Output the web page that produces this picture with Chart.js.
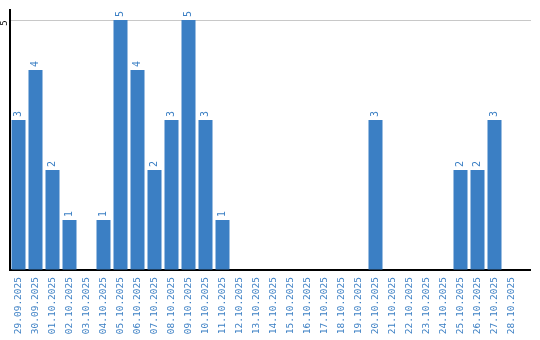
<!DOCTYPE html>
<html lang="en">
<head>
<meta charset="UTF-8" />
<title>Daily count</title>
<script src="https://cdn.jsdelivr.net/npm/chart.js"></script>
<style>
  html, body { margin: 0; padding: 0; background: #fff; }
  #wrap { width: 540px; height: 340px; }
</style>
</head>
<body>
<div id="wrap"><canvas id="chart"></canvas></div>
<script>
  const dates = ['29.09.2025', '30.09.2025', '01.10.2025', '02.10.2025', '03.10.2025', '04.10.2025',
    '05.10.2025', '06.10.2025', '07.10.2025', '08.10.2025', '09.10.2025', '10.10.2025', '11.10.2025',
    '12.10.2025', '13.10.2025', '14.10.2025', '15.10.2025', '16.10.2025', '17.10.2025', '18.10.2025',
    '19.10.2025', '20.10.2025', '21.10.2025', '22.10.2025', '23.10.2025', '24.10.2025', '25.10.2025',
    '26.10.2025', '27.10.2025', '28.10.2025'];
  const counts = [3, 4, 2, 1, 0, 1, 5, 4, 2, 3, 5, 3, 1, 0, 0, 0, 0, 0, 0, 0, 0, 3, 0, 0, 0, 0, 2, 2, 3, 0];
  const yTicks = [0, 5];

  const blue = '#3b7fc4';
  const mono = '"DejaVu Sans Mono"';
  const lineEnd = 531; // axis + grid run a bit past the last slot

  // value labels, rotated y tick label, axis/grid extension
  const extras = {
    id: 'extras',
    beforeDatasetsDraw(chart) {
      const ctx = chart.ctx;
      const area = chart.chartArea;
      const y = chart.scales.y;
      ctx.save();
      ctx.strokeStyle = '#c8c8c8';
      ctx.lineWidth = 1;
      yTicks.filter(v => v > 0).forEach(v => {
        const py = Math.round(y.getPixelForValue(v)) + 0.5;
        ctx.beginPath();
        ctx.moveTo(area.right, py);
        ctx.lineTo(lineEnd, py);
        ctx.stroke();
      });
      ctx.strokeStyle = '#000';
      ctx.lineWidth = 2;
      ctx.beginPath();
      ctx.moveTo(area.right, area.bottom);
      ctx.lineTo(lineEnd, area.bottom);
      ctx.stroke();
      ctx.restore();
    },
    afterDatasetsDraw(chart) {
      const ctx = chart.ctx;
      const meta = chart.getDatasetMeta(0);
      ctx.save();
      ctx.font = '10px ' + mono;
      ctx.fillStyle = blue;
      ctx.textAlign = 'left';
      ctx.textBaseline = 'middle';
      meta.data.forEach((bar, i) => {
        if (!counts[i]) return;
        ctx.save();
        ctx.translate(bar.x, bar.y - 3);
        ctx.rotate(-Math.PI / 2);
        ctx.fillText(String(counts[i]), 0, 0);
        ctx.restore();
      });
      const y = chart.scales.y;
      ctx.fillStyle = '#000';
      ctx.font = '9px ' + mono;
      ctx.textAlign = 'center';
      yTicks.filter(v => v > 0).forEach(v => {
        ctx.save();
        ctx.translate(4.5, y.getPixelForValue(v) + 3);
        ctx.rotate(-Math.PI / 2);
        ctx.fillText(String(v), 0, 0);
        ctx.restore();
      });
      ctx.restore();
    }
  };

  new Chart(document.getElementById('chart'), {
    type: 'bar',
    data: {
      labels: dates,
      datasets: [{
        data: counts,
        backgroundColor: blue,
        categoryPercentage: 1,
        barPercentage: 14 / 17
      }]
    },
    options: {
      responsive: true,
      maintainAspectRatio: false,
      animation: false,
      layout: { padding: { top: 10, right: 20, left: 0, bottom: 0 } },
      plugins: { legend: { display: false }, tooltip: { enabled: false } },
      scales: {
        x: {
          grid: { display: false, drawTicks: false },
          border: { color: '#000', width: 2 },
          ticks: {
            color: blue,
            font: { family: 'DejaVu Sans Mono', size: 9.5 },
            minRotation: 90,
            maxRotation: 90,
            padding: 7,
            autoSkip: false
          },
          afterFit(scale) { scale.height = 70; }
        },
        y: {
          min: 0,
          max: 5.2,
          afterBuildTicks(scale) { scale.ticks = yTicks.map(v => ({ value: v })); },
          grid: { color: '#c8c8c8', drawTicks: false },
          border: { color: '#000', width: 2 },
          ticks: { display: false },
          afterFit(scale) { scale.width = 10; }
        }
      }
    },
    plugins: [extras]
  });
</script>
</body>
</html>
